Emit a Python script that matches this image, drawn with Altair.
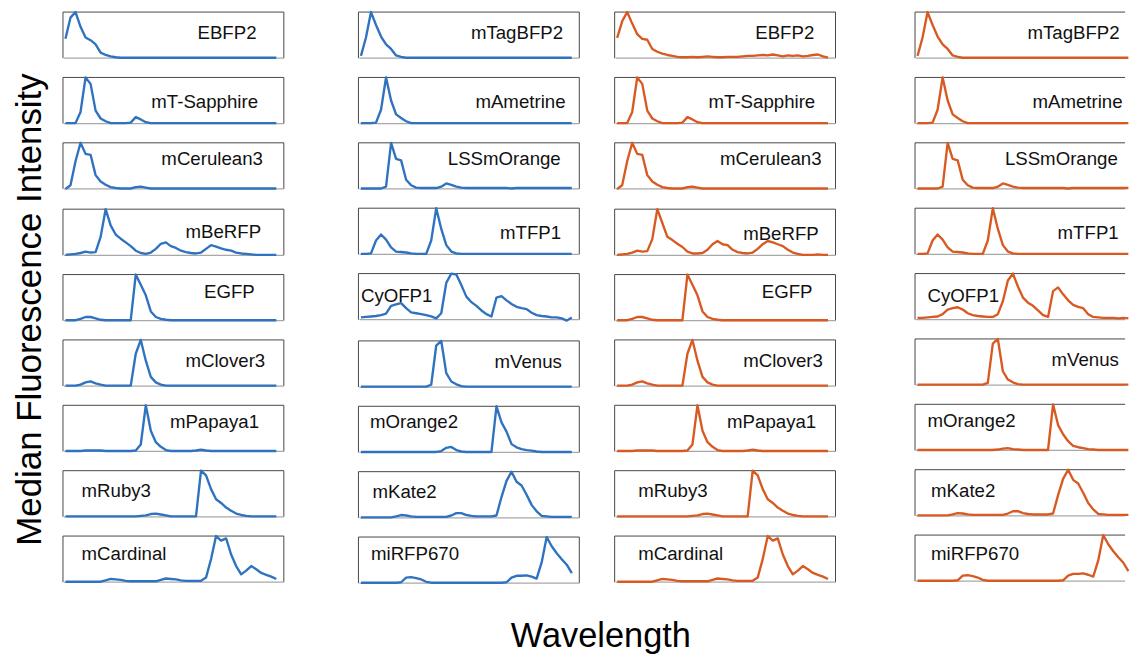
import altair as alt
import pandas as pd

# ---------------- data (normalised median intensity per detector channel) ----------------
COL1_NAMES = ["EBFP2", "mT-Sapphire", "mCerulean3", "mBeRFP", "EGFP",
              "mClover3", "mPapaya1", "mRuby3", "mCardinal"]
COL2_NAMES = ["mTagBFP2", "mAmetrine", "LSSmOrange", "mTFP1", "CyOFP1",
              "mVenus", "mOrange2", "mKate2", "miRFP670"]

EBFP2_BLUE = [0.42, 0.88, 1.00, 0.68, 0.45, 0.39, 0.30, 0.12, 0.07, 0.04, 0.02,
              0.01, 0.01, 0.01, 0.01, 0.01, 0.01, 0.01, 0.01, 0.01, 0.01, 0.01,
              0.01, 0.01, 0.01, 0.01, 0.01, 0.01, 0.01, 0.01, 0.01, 0.01, 0.01,
              0.01, 0.01, 0.01, 0.01, 0.01, 0.01, 0.01, 0.01, 0.01, 0.01]
EBFP2_ORANGE = [0.44, 0.80, 1.00, 0.75, 0.52, 0.42, 0.40, 0.20, 0.14, 0.10, 0.07,
                0.05, 0.03, 0.02, 0.02, 0.03, 0.02, 0.03, 0.04, 0.03, 0.02, 0.02,
                0.03, 0.03, 0.03, 0.04, 0.05, 0.05, 0.06, 0.07, 0.06, 0.08, 0.06,
                0.04, 0.06, 0.05, 0.06, 0.04, 0.05, 0.07, 0.08, 0.04, 0.01]
MT_SAPPHIRE = [0.01, 0.01, 0.01, 0.25, 1.00, 0.86, 0.28, 0.11, 0.05, 0.01, 0.01,
               0.01, 0.01, 0.02, 0.14, 0.09, 0.03, 0.01, 0.01, 0.01, 0.01, 0.01,
               0.01, 0.01, 0.01, 0.01, 0.01, 0.01, 0.01, 0.01, 0.01, 0.01, 0.01,
               0.01, 0.01, 0.01, 0.01, 0.01, 0.01, 0.01, 0.01, 0.01, 0.01]
MCERULEAN3 = [0.00, 0.08, 0.60, 1.00, 0.76, 0.74, 0.30, 0.16, 0.09, 0.04, 0.02,
              0.01, 0.01, 0.01, 0.04, 0.05, 0.03, 0.01, 0.01, 0.01, 0.01, 0.01,
              0.01, 0.01, 0.01, 0.01, 0.01, 0.01, 0.01, 0.01, 0.01, 0.01, 0.01,
              0.01, 0.01, 0.01, 0.01, 0.01, 0.01, 0.01, 0.01, 0.01, 0.01]
MBERFP_BLUE = [0.01, 0.02, 0.03, 0.05, 0.08, 0.06, 0.07, 0.40, 1.00, 0.65, 0.45,
               0.36, 0.28, 0.20, 0.10, 0.05, 0.03, 0.06, 0.14, 0.25, 0.28, 0.20,
               0.16, 0.10, 0.07, 0.05, 0.04, 0.06, 0.14, 0.22, 0.19, 0.15, 0.12,
               0.10, 0.06, 0.04, 0.03, 0.02, 0.01, 0.01, 0.01, 0.01, 0.01]
MBERFP_ORANGE = [0.01, 0.02, 0.03, 0.06, 0.10, 0.08, 0.09, 0.35, 1.00, 0.70, 0.40,
                 0.33, 0.25, 0.18, 0.08, 0.04, 0.04, 0.05, 0.12, 0.24, 0.31, 0.24,
                 0.22, 0.12, 0.07, 0.05, 0.04, 0.06, 0.14, 0.24, 0.31, 0.28, 0.24,
                 0.20, 0.12, 0.06, 0.03, 0.01, 0.01, 0.01, 0.02, 0.01, 0.01]
EGFP = [0.01, 0.01, 0.01, 0.04, 0.08, 0.08, 0.05, 0.02, 0.01, 0.01, 0.01,
        0.01, 0.01, 0.01, 1.00, 0.78, 0.55, 0.20, 0.08, 0.04, 0.02, 0.01,
        0.01, 0.01, 0.01, 0.01, 0.01, 0.01, 0.01, 0.01, 0.01, 0.01, 0.01,
        0.01, 0.01, 0.01, 0.01, 0.01, 0.01, 0.01, 0.01, 0.01, 0.01]
MCLOVER3 = [0.01, 0.01, 0.01, 0.03, 0.08, 0.10, 0.06, 0.03, 0.01, 0.01, 0.01,
            0.01, 0.01, 0.01, 0.70, 1.00, 0.55, 0.20, 0.08, 0.03, 0.01, 0.01,
            0.01, 0.01, 0.01, 0.01, 0.01, 0.01, 0.01, 0.01, 0.01, 0.01, 0.01,
            0.01, 0.01, 0.01, 0.01, 0.01, 0.01, 0.01, 0.01, 0.01, 0.01]
MPAPAYA1 = [0.01, 0.01, 0.01, 0.01, 0.02, 0.02, 0.02, 0.02, 0.01, 0.01, 0.01,
            0.01, 0.01, 0.01, 0.02, 0.15, 1.00, 0.45, 0.20, 0.10, 0.03, 0.01,
            0.01, 0.01, 0.01, 0.01, 0.02, 0.04, 0.02, 0.01, 0.01, 0.01, 0.01,
            0.01, 0.01, 0.01, 0.01, 0.01, 0.01, 0.01, 0.01, 0.01, 0.01]
MRUBY3 = [0.01, 0.01, 0.01, 0.01, 0.01, 0.01, 0.01, 0.01, 0.01, 0.01, 0.01,
          0.01, 0.01, 0.01, 0.01, 0.02, 0.03, 0.06, 0.07, 0.05, 0.03, 0.01,
          0.01, 0.01, 0.01, 0.01, 0.01, 1.00, 0.90, 0.60, 0.38, 0.30, 0.20,
          0.13, 0.07, 0.04, 0.02, 0.01, 0.01, 0.01, 0.01, 0.01, 0.01]
MCARDINAL = [0.01, 0.01, 0.01, 0.01, 0.01, 0.01, 0.01, 0.01, 0.04, 0.07, 0.06,
             0.05, 0.03, 0.02, 0.02, 0.02, 0.02, 0.02, 0.02, 0.05, 0.08, 0.07,
             0.06, 0.04, 0.03, 0.03, 0.03, 0.03, 0.10, 0.50, 1.00, 0.90, 0.95,
             0.60, 0.35, 0.17, 0.25, 0.35, 0.28, 0.20, 0.16, 0.12, 0.07]
MTAGBFP2 = [0.05, 0.45, 1.00, 0.72, 0.47, 0.30, 0.20, 0.06, 0.03, 0.01, 0.01,
            0.01, 0.01, 0.01, 0.01, 0.01, 0.01, 0.01, 0.01, 0.01, 0.01, 0.01,
            0.01, 0.01, 0.01, 0.01, 0.01, 0.01, 0.01, 0.01, 0.01, 0.01, 0.01,
            0.01, 0.01, 0.01, 0.01, 0.01, 0.01, 0.01, 0.01, 0.01, 0.01]
MAMETRINE = [0.01, 0.01, 0.01, 0.02, 0.30, 1.00, 0.50, 0.20, 0.12, 0.05, 0.01,
             0.01, 0.01, 0.01, 0.01, 0.01, 0.01, 0.01, 0.01, 0.01, 0.01, 0.01,
             0.01, 0.01, 0.01, 0.01, 0.01, 0.01, 0.01, 0.01, 0.01, 0.01, 0.01,
             0.01, 0.01, 0.01, 0.01, 0.01, 0.01, 0.01, 0.01, 0.01, 0.01]
LSSMORANGE = [0.01, 0.01, 0.01, 0.01, 0.01, 0.05, 1.00, 0.65, 0.62, 0.20, 0.08,
              0.03, 0.02, 0.02, 0.02, 0.02, 0.05, 0.12, 0.09, 0.05, 0.03, 0.02,
              0.02, 0.02, 0.02, 0.02, 0.02, 0.02, 0.02, 0.02, 0.01, 0.02, 0.02,
              0.02, 0.02, 0.02, 0.02, 0.02, 0.02, 0.02, 0.02, 0.02, 0.02]
MTFP1 = [0.01, 0.01, 0.02, 0.30, 0.43, 0.32, 0.15, 0.06, 0.05, 0.04, 0.02,
         0.01, 0.01, 0.01, 0.30, 1.00, 0.55, 0.20, 0.06, 0.02, 0.01, 0.01,
         0.01, 0.01, 0.01, 0.01, 0.01, 0.01, 0.01, 0.01, 0.01, 0.01, 0.01,
         0.01, 0.01, 0.01, 0.01, 0.01, 0.01, 0.01, 0.01, 0.01, 0.01]
CYOFP1_BLUE = [0.05, 0.06, 0.07, 0.08, 0.10, 0.13, 0.30, 0.33, 0.36, 0.25, 0.16,
               0.14, 0.12, 0.10, 0.07, 0.03, 0.14, 0.80, 1.00, 0.98, 0.75, 0.50,
               0.38, 0.30, 0.20, 0.12, 0.07, 0.48, 0.51, 0.42, 0.34, 0.28, 0.25,
               0.23, 0.15, 0.10, 0.08, 0.07, 0.05, 0.05, 0.03, -0.02, 0.05]
CYOFP1_ORANGE = [0.04, 0.04, 0.05, 0.06, 0.07, 0.12, 0.22, 0.25, 0.27, 0.22, 0.14,
                 0.10, 0.08, 0.07, 0.06, 0.06, 0.12, 0.40, 0.85, 1.00, 0.72, 0.48,
                 0.37, 0.30, 0.20, 0.10, 0.06, 0.62, 0.70, 0.55, 0.42, 0.32, 0.28,
                 0.25, 0.12, 0.06, 0.05, 0.04, 0.04, 0.04, 0.03, 0.04, 0.03]
MVENUS = [0.01, 0.01, 0.01, 0.01, 0.01, 0.01, 0.01, 0.01, 0.01, 0.01, 0.01,
          0.01, 0.01, 0.01, 0.05, 0.90, 1.00, 0.30, 0.12, 0.06, 0.02, 0.01,
          0.01, 0.01, 0.01, 0.01, 0.01, 0.01, 0.01, 0.01, 0.01, 0.01, 0.01,
          0.01, 0.01, 0.01, 0.01, 0.01, 0.01, 0.01, 0.01, 0.01, 0.01]
MORANGE2_BLUE = [0.01, 0.01, 0.01, 0.01, 0.01, 0.01, 0.01, 0.01, 0.01, 0.01, 0.01,
                 0.01, 0.01, 0.01, 0.01, 0.01, 0.03, 0.10, 0.12, 0.05, 0.02, 0.01,
                 0.01, 0.01, 0.01, 0.01, 0.01, 1.00, 0.65, 0.45, 0.18, 0.11, 0.07,
                 0.05, 0.04, 0.02, 0.01, 0.01, 0.01, 0.01, 0.01, 0.01, 0.01]
MORANGE2_ORANGE = [0.01, 0.01, 0.01, 0.01, 0.01, 0.01, 0.01, 0.01, 0.01, 0.01, 0.01,
                   0.01, 0.01, 0.01, 0.01, 0.01, 0.02, 0.04, 0.05, 0.03, 0.02, 0.01,
                   0.01, 0.01, 0.01, 0.01, 0.01, 1.00, 0.55, 0.35, 0.20, 0.10, 0.07,
                   0.05, 0.03, 0.02, 0.01, 0.01, 0.01, 0.01, 0.01, 0.01, 0.01]
MKATE2 = [0.01, 0.01, 0.01, 0.01, 0.01, 0.01, 0.01, 0.03, 0.06, 0.05, 0.03,
          0.02, 0.02, 0.02, 0.02, 0.02, 0.02, 0.02, 0.05, 0.10, 0.10, 0.06,
          0.04, 0.03, 0.03, 0.03, 0.03, 0.05, 0.45, 0.80, 1.00, 0.78, 0.70,
          0.50, 0.28, 0.14, 0.04, 0.03, 0.02, 0.02, 0.02, 0.02, 0.02]
MIRFP670 = [0.01, 0.01, 0.01, 0.01, 0.01, 0.01, 0.01, 0.01, 0.02, 0.12, 0.13,
            0.11, 0.08, 0.03, 0.01, 0.01, 0.01, 0.01, 0.01, 0.01, 0.01, 0.01,
            0.01, 0.01, 0.01, 0.01, 0.01, 0.01, 0.01, 0.02, 0.12, 0.16, 0.16,
            0.17, 0.14, 0.10, 0.45, 1.00, 0.80, 0.65, 0.52, 0.40, 0.22]

COL1_SERIES = [EBFP2_BLUE, MT_SAPPHIRE, MCERULEAN3, MBERFP_BLUE, EGFP,
               MCLOVER3, MPAPAYA1, MRUBY3, MCARDINAL]
COL2_SERIES = [MTAGBFP2, MAMETRINE, LSSMORANGE, MTFP1, CYOFP1_BLUE,
               MVENUS, MORANGE2_BLUE, MKATE2, MIRFP670]
COL3_SERIES = [EBFP2_ORANGE, MT_SAPPHIRE, MCERULEAN3, MBERFP_ORANGE, EGFP,
               MCLOVER3, MPAPAYA1, MRUBY3, MCARDINAL]
COL4_SERIES = [MTAGBFP2, MAMETRINE, LSSMORANGE, MTFP1, CYOFP1_ORANGE,
               MVENUS, MORANGE2_ORANGE, MKATE2, MIRFP670]

# label anchor positions (channel index, normalised intensity) for each panel
COL1_LABELS = [(26.3, 0.55), (17.1, 0.47), (19.1, 0.64), (23.9, 0.50), (27.6, 0.62),
               (23.9, 0.54), (20.8, 0.64), (3.2, 0.56), (3.2, 0.60)]
COL2_LABELS = [(21.9, 0.54), (22.8, 0.47), (17.3, 0.64), (27.7, 0.46), (0.0, 0.52),
               (26.6, 0.54), (1.8, 0.66), (2.3, 0.56), (2.0, 0.62)]
COL3_LABELS = [(27.5, 0.55), (18.2, 0.47), (20.5, 0.64), (25.1, 0.46), (28.8, 0.62),
               (25.1, 0.55), (21.9, 0.64), (4.2, 0.56), (4.2, 0.60)]
COL4_LABELS = [(21.9, 0.55), (22.9, 0.47), (17.4, 0.64), (27.9, 0.46), (2.0, 0.52),
               (26.7, 0.54), (2.0, 0.64), (2.7, 0.53), (2.7, 0.58)]

# ---------------- styling / layout ----------------
BLUE = "#2e72c0"
ORANGE = "#d85a22"
FONT = "Liberation Sans"
DARK = "#444444"
BASE = "#a8a8a8"
PANEL_H = 47
ROW_GAP = 16.6
PX_PER_IDX = 225 / 44.0


def panel(values, name, pos, color, width, right_border):
    xmax = -0.5 + width / PX_PER_IDX
    xs = alt.Scale(domain=[-0.5, xmax], nice=False, zero=False)
    ys = alt.Scale(domain=[0, 1], nice=False, zero=False)
    one = pd.DataFrame({"k": [0]})
    layers = [
        alt.Chart(one).mark_rule(color=DARK, strokeWidth=1).encode(
            x=alt.value(0), x2=alt.value(width), y=alt.value(0)),
        alt.Chart(one).mark_rule(color=DARK, strokeWidth=1).encode(
            x=alt.value(0), y=alt.value(0), y2=alt.value(PANEL_H)),
    ]
    if right_border:
        layers.append(alt.Chart(one).mark_rule(color=DARK, strokeWidth=1).encode(
            x=alt.value(width), y=alt.value(0), y2=alt.value(PANEL_H)))
    layers.append(alt.Chart(one).mark_rule(color=BASE, strokeWidth=1.2).encode(
        x=alt.value(1), x2=alt.value(width), y=alt.value(PANEL_H)))
    df = pd.DataFrame({"x": list(range(len(values))), "v": values})
    layers.append(alt.Chart(df).mark_line(color=color, strokeWidth=2.4,
                                          strokeJoin="round").encode(
        x=alt.X("x:Q", scale=xs, axis=None),
        y=alt.Y("v:Q", scale=ys, axis=None)))
    tdf = pd.DataFrame({"x": [pos[0]], "v": [pos[1]], "t": [name]})
    layers.append(alt.Chart(tdf).mark_text(align="left", baseline="middle",
                                           font=FONT, fontSize=19,
                                           color="#111111").encode(
        x=alt.X("x:Q", scale=xs, axis=None),
        y=alt.Y("v:Q", scale=ys, axis=None),
        text="t:N"))
    return alt.layer(*layers).properties(width=width, height=PANEL_H)


def column(names, series, labels, color, width, right_border):
    return alt.vconcat(*[panel(s, n, p, color, width, right_border)
                         for n, s, p in zip(names, series, labels)],
                       spacing=ROW_GAP)


def spacer(w, h=1):
    return alt.Chart(pd.DataFrame({"k": [0]})).mark_rule(opacity=0).encode(
        x=alt.value(0), y=alt.value(0), y2=alt.value(1)).properties(width=w, height=h)


GRID_H = 9 * PANEL_H + 8 * ROW_GAP

ylab = alt.Chart(pd.DataFrame({"t": ["Median Fluorescence Intensity"]})).mark_text(
    angle=270, align="center", baseline="middle", font=FONT, fontSize=35.5,
    color="#000000").encode(x=alt.value(23), y=alt.value(303), text="t:N").properties(
    width=55, height=GRID_H)

grid = alt.hconcat(
    ylab,
    column(COL1_NAMES, COL1_SERIES, COL1_LABELS, BLUE, 225, True),
    spacer(74),
    column(COL2_NAMES, COL2_SERIES, COL2_LABELS, BLUE, 225, True),
    spacer(34),
    column(COL1_NAMES, COL3_SERIES, COL3_LABELS, ORANGE, 225, True),
    spacer(79),
    column(COL2_NAMES, COL4_SERIES, COL4_LABELS, ORANGE, 214, False),
    spacing=0,
)

xlab = alt.Chart(pd.DataFrame({"t": ["Wavelength"]})).mark_text(
    align="center", baseline="middle", font=FONT, fontSize=35,
    color="#000000").encode(x=alt.value(604), y=alt.value(53), text="t:N").properties(
    width=1100, height=75)

chart = alt.vconcat(grid, xlab, spacing=0).properties(
    padding={"left": 0, "top": -4, "right": 0, "bottom": 0},
    background="white",
).configure_view(strokeWidth=0)

chart.save("out.html", embed_options={"renderer": "svg", "actions": False})
